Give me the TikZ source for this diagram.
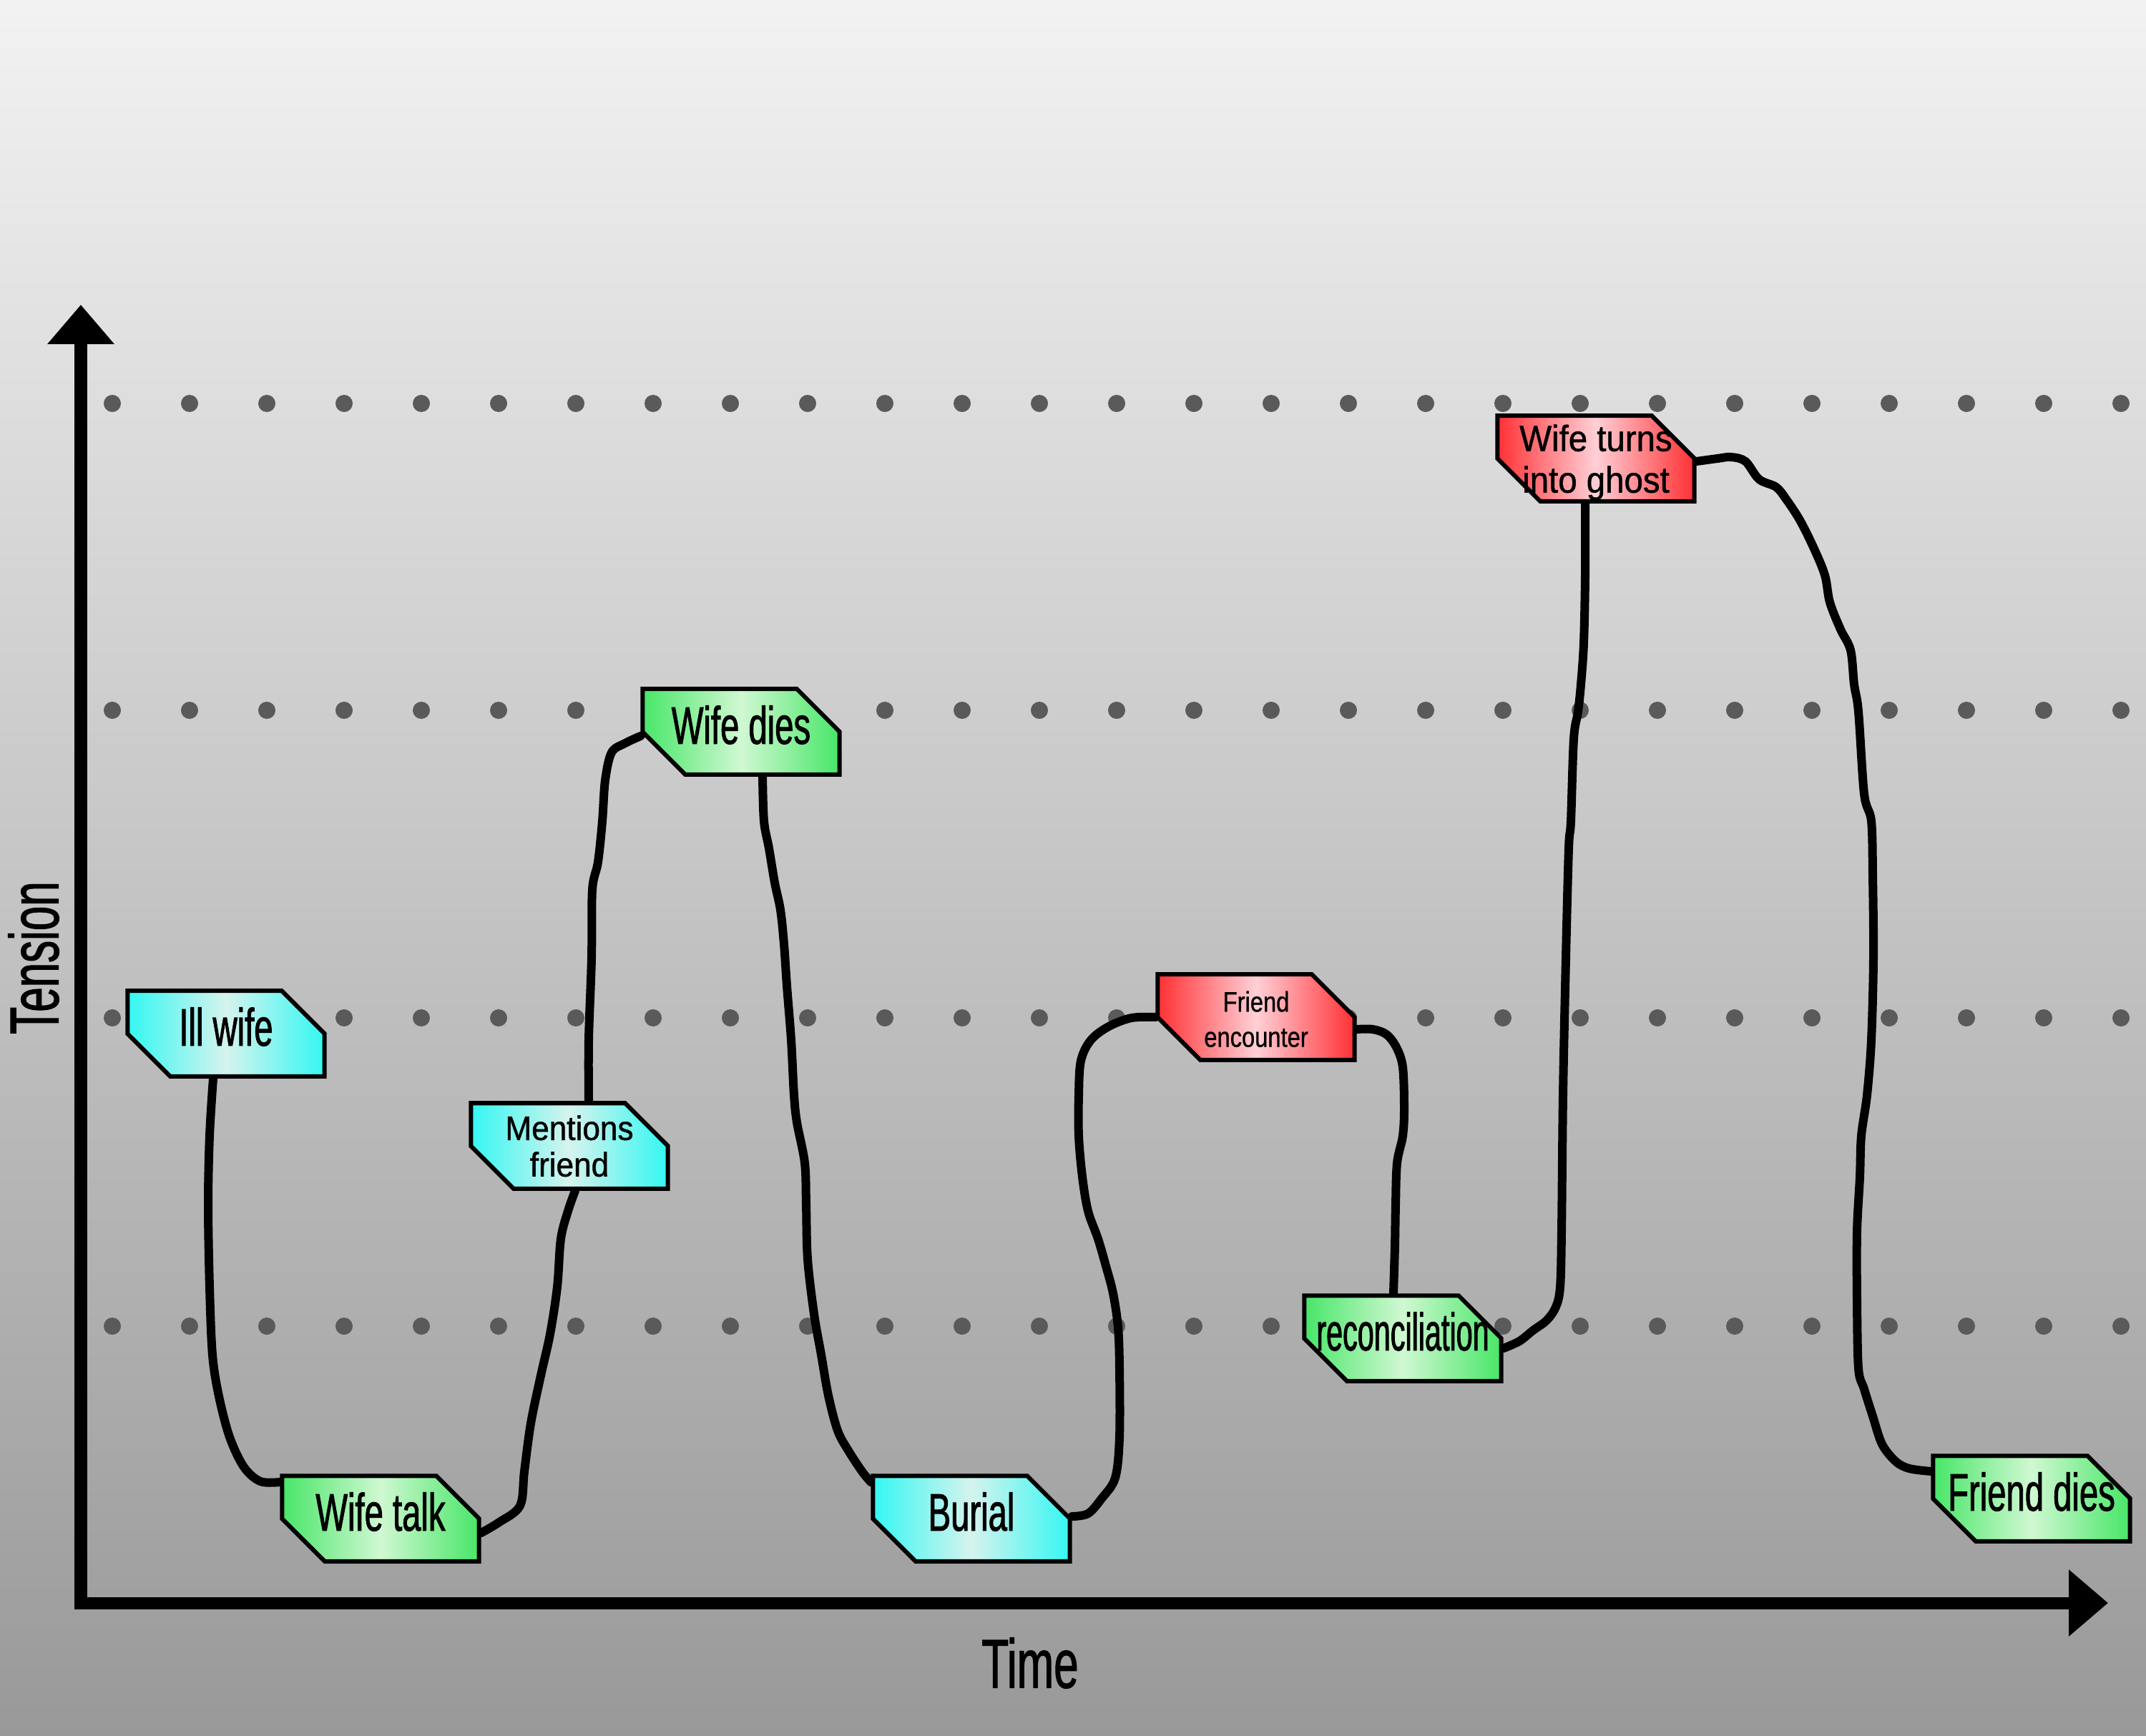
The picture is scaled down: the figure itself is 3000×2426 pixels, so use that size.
\documentclass[tikz,border=0pt]{standalone}
\usepackage{fontspec}
\setmainfont{Liberation Sans}
\newfontfamily\narrowfont[FakeStretch=0.64,FakeBold=1.2]{Liberation Sans}
\newfontfamily\slimfont[FakeStretch=0.56,FakeBold=1.2]{Liberation Sans}
\newfontfamily\midfont[FakeStretch=0.83,FakeBold=0.8]{Liberation Sans}
\newfontfamily\wideish[FakeStretch=0.93,FakeBold=1]{Liberation Sans}
\usetikzlibrary{shapes.misc,arrows.meta}

\definecolor{bgtop}{HTML}{F2F2F2}
\definecolor{bgbot}{HTML}{999999}
\definecolor{dotgray}{HTML}{5A5A5A}
\definecolor{cyanedge}{RGB}{52,247,242}
\definecolor{cyanmid}{RGB}{214,243,238}
\definecolor{greenedge}{RGB}{72,230,104}
\definecolor{greenmid}{RGB}{208,248,210}
\definecolor{rededge}{RGB}{255,48,52}
\definecolor{redmid}{RGB}{255,208,214}

\pgfdeclarelayer{backdrop}
\pgfdeclarelayer{curves}
\pgfsetlayers{backdrop,curves,main}

% label text kept to a fixed box so every tag has the same size
\newcommand{\tagtext}[1]{\makebox[1.6cm]{\begin{tabular}{@{}c@{}}#1\end{tabular}}}
\newcommand{\pairtext}[1]{\makebox[1.6cm]{\raisebox{\dimexpr-0.7\baselineskip-2pt\relax}[12pt][12pt]{\begin{tabular}[b]{@{}c@{}}#1\end{tabular}}}}

\tikzset{
  beat/.style={chamfered rectangle,
    chamfered rectangle corners={north east,south west},
    chamfered rectangle angle=45,
    chamfered rectangle xsep=0.42cm,
    chamfered rectangle ysep=5pt,
    minimum width=2.75cm, minimum height=1.15cm,
    inner sep=0pt, draw=black, line width=0.06cm,
    font=\narrowfont\fontsize{21pt}{24pt}\selectfont},
  calm/.style={beat, left color=cyanedge, right color=cyanedge, middle color=cyanmid},
  relief/.style={beat, left color=greenedge, right color=greenedge, middle color=greenmid},
  shock/.style={beat, left color=rededge, right color=rededge, middle color=redmid},
  curve/.style={line width=0.12cm, line cap=round, line join=round},
  axis/.style={line width=0.17cm, -{Triangle[length=0.55cm,width=0.9cm]}},
  axislabel/.style={font=\narrowfont\fontsize{27.5pt}{30pt}\selectfont, inner sep=0pt}
}

\begin{document}
\begin{tikzpicture}[x=0.01cm,y=-0.01cm]
\useasboundingbox (0,0) rectangle (3000,2426);

\begin{pgfonlayer}{backdrop}
  \shade[top color=bgtop, bottom color=bgbot] (0,0) rectangle (3000,2426);
  \foreach \r in {564,993,1423,1854}
    \foreach \i in {0,...,26}
      \fill[dotgray] (157+108*\i,\r) circle (0.12cm);
\end{pgfonlayer}

% axes
\coordinate (origin) at (113,2241);
\coordinate (ytip) at (113,426);
\coordinate (xtip) at (2947,2241);
\draw[axis] ([yshift=-0.085cm]origin) -- (ytip);
\draw[axis] ([xshift=-0.085cm]origin) -- (xtip);
\node[axislabel] (tlabel) at (1440,2325) {Time};
\node[axislabel, rotate=90] (tenslabel) at (47,1339) {Tension};

% story beats
\node[calm] (ill) at (316,1445) {\tagtext{Ill wife}};
\node[relief] (wtalk) at (532,2123) {\tagtext{Wife talk}};
\node[calm, font=\wideish\fontsize{13.5pt}{14.5pt}\selectfont] (mf) at (796,1602) {\pairtext{Mentions\\friend}};
\node[relief] (wdies) at (1036,1023) {\tagtext{Wife dies}};
\node[calm] (burial) at (1358,2123) {\tagtext{Burial}};
\node[shock, font=\midfont\fontsize{11.2pt}{14pt}\selectfont] (fe) at (1756,1422) {\pairtext{Friend\\encounter}};
\node[relief, font=\slimfont\fontsize{21pt}{24pt}\selectfont] (rec) at (1961,1871) {\tagtext{reconciliation}};
\node[shock, font=\wideish\fontsize{14.5pt}{16.5pt}\selectfont] (wg) at (2231,641) {\pairtext{Wife turns\\into ghost}};
\node[relief] (fd) at (2840,2095) {\tagtext{Friend dies}};

% tension line
\begin{pgfonlayer}{curves}
\draw[curve] plot[smooth, tension=0.55] coordinates {([xshift=-0.18cm]ill.south) (293,1588) (291,1684) (293,1799) (297,1894) (306,1952) (321,2009) (341,2051) (364,2071) ([yshift=0.51cm]wtalk.west)};
\draw[curve] plot[smooth, tension=0.55] coordinates {([yshift=-0.2cm]wtalk.east) (698,2128) (727,2105) (733,2057) (742,1990) (756,1923) (769,1865) (779,1799) (784,1732) (794,1693) ([xshift=0.08cm]mf.south)};
\draw[curve] plot[smooth, tension=0.55] coordinates {([xshift=0.27cm]mf.north) (823,1454) (827,1339) (828,1244) (836,1205) (842,1148) (846,1091) (855,1052) (874,1039) ([yshift=-0.06cm]wdies.west)};
\draw[curve] plot[smooth, tension=0.55] coordinates {([xshift=0.3cm]wdies.south) (1068,1148) (1075,1186) (1083,1234) (1091,1272) (1096,1320) (1100,1378) (1106,1454) (1110,1531) (1114,1569) (1125,1626) (1127,1684) (1129,1760) (1138,1837) (1148,1894) (1158,1951) (1171,2000) (1186,2028) (1205,2057) ([yshift=0.51cm]burial.west)};
\draw[curve] plot[smooth, tension=0.55] coordinates {([yshift=0.03cm]burial.east) (1521,2116) (1540,2095) (1559,2066) (1565,2009) (1565,1913) (1563,1856) (1556,1808) (1546,1770) (1535,1732) (1521,1693) (1513,1645) (1508,1588) (1508,1531) (1511,1483) (1525,1454) (1550,1435) (1582,1423) (fe.west)};
\draw[curve] plot[smooth, tension=0.55] coordinates {([yshift=-0.17cm]fe.east) (1919,1439) (1938,1446) (1952,1464) (1961,1492) (1963,1550) (1961,1588) (1953,1626) (1951,1684) (1950,1741) ([xshift=-0.13cm]rec.north)};
\draw[curve] plot[smooth, tension=0.55] coordinates {([yshift=-0.14cm]rec.east) (2124,1875) (2143,1860) (2162,1846) (2175,1827) (2181,1799) (2183,1722) (2185,1531) (2189,1339) (2193,1186) (2196,1148) (2200,1033) (2206,995) (2210,957) (2214,899) (2216,804) ([xshift=-0.15cm]wg.south)};
\draw[curve] plot[smooth, tension=0.55] coordinates {([yshift=-0.04cm]wg.east) (2401,641) (2420,639) (2440,645) (2459,670) (2483,681) (2497,698) (2516,727) (2535,765) (2551,804) (2558,842) (2573,880) (2587,909) (2592,957) (2598,995) (2606,1110) (2616,1148) (2618,1224) (2619,1339) (2616,1454) (2610,1531) (2602,1588) (2600,1645) (2596,1722) (2596,1818) (2598,1913) (2606,1942) (2618,1980) (2631,2019) (2650,2043) (2669,2053) ([yshift=0.38cm]fd.west)};
\end{pgfonlayer}
\end{tikzpicture}
\end{document}
